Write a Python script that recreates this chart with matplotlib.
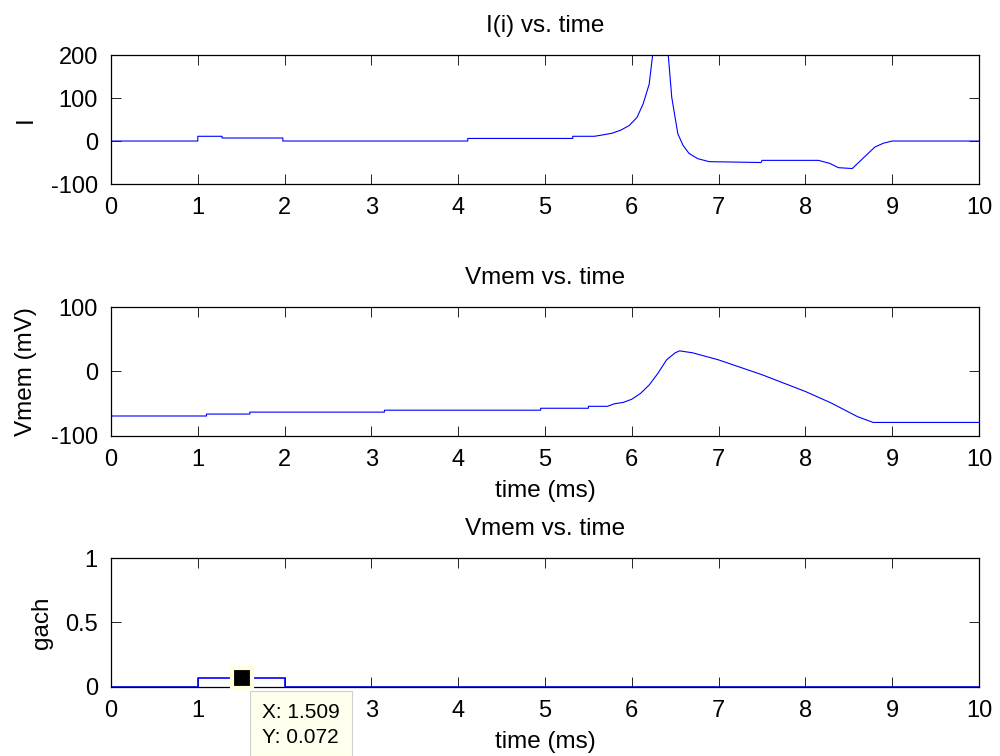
import matplotlib
matplotlib.use('Agg')
import matplotlib.pyplot as plt

plt.rcParams['font.family'] = ['Liberation Sans', 'DejaVu Sans']
plt.rcParams['axes.unicode_minus'] = False

# current I(i) against time (ms), peak runs off the top of the axes
t_cur = [0, 1.0, 1.0, 1.28, 1.28, 1.98, 1.98, 4.11, 4.11, 5.32, 5.32, 5.57, 5.63, 5.77,
         5.87, 5.97, 6.06, 6.13, 6.20, 6.24, 6.33, 6.42, 6.46, 6.53, 6.59, 6.66, 6.76,
         6.89, 7.49, 7.50, 8.15, 8.28, 8.38, 8.54, 8.80, 8.90, 9.00, 10.0]
i_cur = [0, 0, 11, 11, 7, 7, 0, 0, 6, 6, 11, 11, 13, 18,
         25, 36, 55, 86, 132, 200, 290, 200, 102, 17, -10, -29, -41,
         -48, -50, -45, -45, -52, -62, -64, -14, -5, 0, 0]

# membrane voltage (mV) against time (ms)
t_vm = [0, 1.1, 1.1, 1.6, 1.6, 3.15, 3.15, 4.95, 4.95, 5.5, 5.5, 5.72, 5.8, 5.9,
        6.0, 6.1, 6.2, 6.3, 6.4, 6.5, 6.55, 6.6, 6.7, 7.0, 7.5, 8.0, 8.3, 8.6, 8.78, 10.0]
vmem = [-69, -69, -66, -66, -63, -63, -60, -60, -57, -57, -54, -54, -50, -48,
        -43, -34, -21, -3, 18, 29, 32, 31, 29, 18, -5, -31, -49, -70, -79, -79]

# conductance gach: a single pulse between 1 and 2 ms
t_g = [0, 1, 1, 2, 2, 10]
gach = [0, 0, 0.072, 0.072, 0, 0]

tip_x, tip_y = 1.509, 0.072

fig = plt.figure(figsize=(10, 7.56), dpi=100)
left, width, height = 0.111, 0.868, 0.1706
ax1 = fig.add_axes([left, 0.7566, width, height])
ax2 = fig.add_axes([left, 0.4233, width, height])
ax3 = fig.add_axes([left, 0.0913, width, height])

blue = '#0000FF'
ax1.plot(t_cur, i_cur, color=blue, lw=0.8)
ax2.plot(t_vm, vmem, color=blue, lw=0.8)
ax3.plot(t_g, gach, color=blue, lw=1.2)

ax1.set_ylim(-100, 200)
ax1.set_yticks([-100, 0, 100, 200])
ax2.set_ylim(-100, 100)
ax2.set_yticks([-100, 0, 100])
ax3.set_ylim(0, 1)
ax3.set_yticks([0, 0.5, 1])
ax3.set_yticklabels(['0', '0.5', '1'])

ax1.set_title('I(i) vs. time', fontsize=17.5, pad=16.5)
ax2.set_title('Vmem vs. time', fontsize=17.5, pad=16.5)
ax3.set_title('Vmem vs. time', fontsize=17.5, pad=16.5)

ax1.set_ylabel('I', fontsize=17.5)
ax2.set_ylabel('Vmem (mV)', fontsize=17.5)
ax3.set_ylabel('gach', fontsize=17.5)
ax1.yaxis.set_label_coords(-0.085, 0.5)
ax2.yaxis.set_label_coords(-0.085, 0.5)
ax3.yaxis.set_label_coords(-0.067, 0.5)

ax2.set_xlabel('time (ms)', fontsize=17.5, labelpad=6)
ax3.set_xlabel('time (ms)', fontsize=17.5, labelpad=6)

for ax in (ax1, ax2, ax3):
    ax.set_xlim(0, 10)
    ax.set_xticks(range(0, 11))
    ax.tick_params(direction='in', length=7, width=0.6, top=True, right=True,
                   labelsize=17, pad=9.5)
    for s in ax.spines.values():
        s.set_linewidth(0.9)

# the data tip box sits over the "2" label of the bottom plot
ax3.set_xticklabels(['' if k == 2 else str(k) for k in range(0, 11)])

# data tip on the gach pulse
ax3.plot(tip_x, tip_y, 's', ms=14.5, mfc='black', mec='#FFFFE0', mew=3,
         clip_on=False, zorder=5)
ax3.annotate('X: 1.509\nY: 0.072', xy=(tip_x, tip_y), xytext=(14.5, -18.5),
             textcoords='offset points', ha='left', va='top', fontsize=15,
             linespacing=1.35, annotation_clip=False, zorder=6,
             bbox=dict(boxstyle='square,pad=0.6', fc='#FFFFEE', ec='#D0D0D0', lw=0.8))

fig.savefig('out.png', dpi=100)
